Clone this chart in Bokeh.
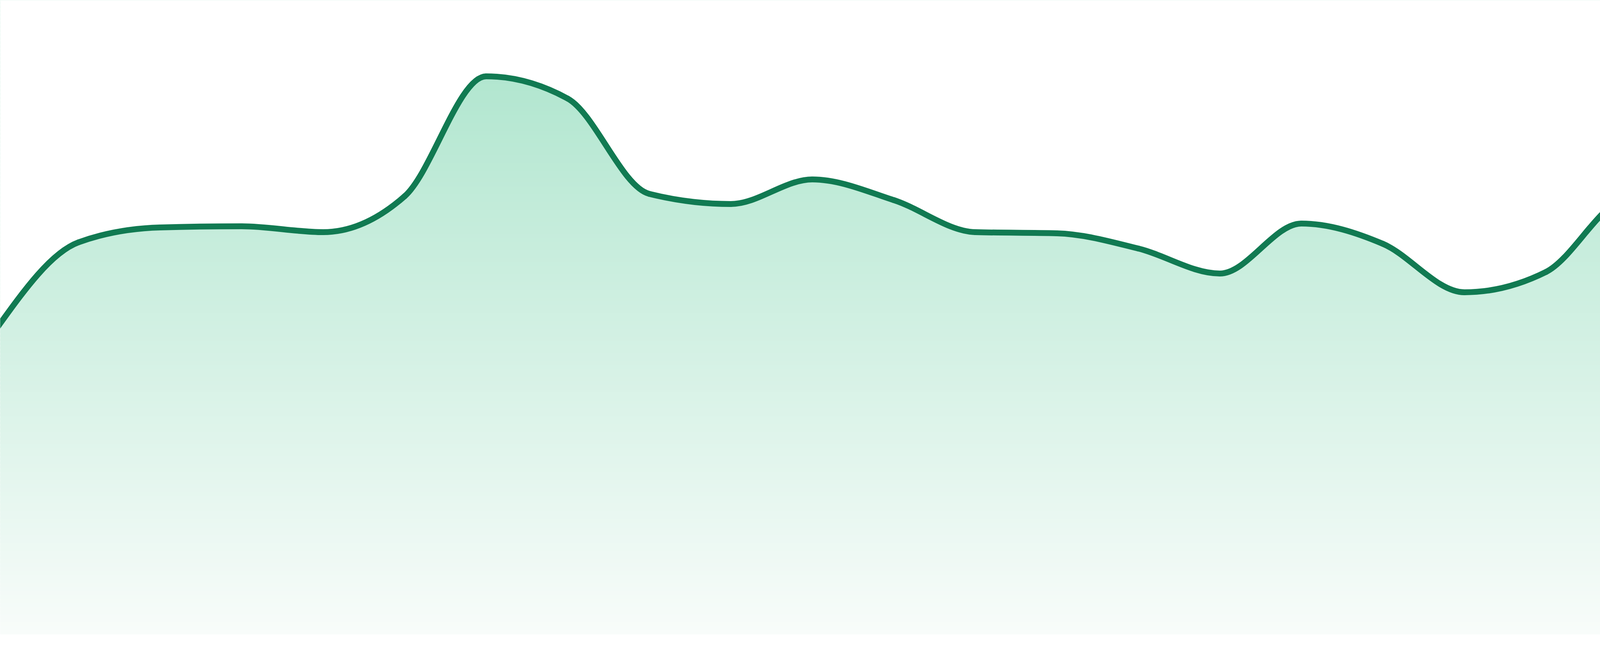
import numpy as np
from bokeh.plotting import figure
from bokeh.models import Range1d
from bokeh.embed import file_html
from bokeh.resources import INLINE

# ---- data ----
values = [78.5, 100.4, 104.2, 104.5, 103.0, 112.2, 142.9, 137.2, 112.8, 110.2,
          116.5, 111.2, 103.0, 102.7, 98.8, 92.4, 105.2, 100.0, 87.6, 92.8,
          111.8, 113.4, 114.8, 105.8]
index = list(range(len(values)))

# ---- style ----
LINE_COLOR = "#117a52"
TOP_RGB = (177, 230, 207)
BOTTOM_RGB = (248, 252, 250)

W, H = 4784, 1664
n = len(values)
pad = 8 * (n - 1) / 4800.0
x_start, x_end = pad, (n - 1) - pad
y_start, y_end = -4.0, 162.4

p = figure(width=W, height=H, output_backend="svg", toolbar_location=None,
           x_range=Range1d(x_start, x_end), y_range=Range1d(y_start, y_end),
           min_border=0, background_fill_color="white", border_fill_color="white")
p.axis.visible = False
p.grid.visible = False
p.outline_line_color = None


# monotone-x tangents (same rule as d3.curveMonotoneX)
def _sign(v):
    return -1.0 if v < 0 else 1.0


xs = np.array(index, dtype=float)
ys = np.array(values, dtype=float)
t = np.zeros(n)
for i in range(1, n - 1):
    h0, h1 = xs[i] - xs[i - 1], xs[i + 1] - xs[i]
    s0, s1 = (ys[i] - ys[i - 1]) / h0, (ys[i + 1] - ys[i]) / h1
    pp = (s0 * h1 + s1 * h0) / (h0 + h1)
    t[i] = (_sign(s0) + _sign(s1)) * min(abs(s0), abs(s1), 0.5 * abs(pp))
t[0] = (3 * (ys[1] - ys[0]) / (xs[1] - xs[0]) - t[1]) / 2
t[-1] = (3 * (ys[-1] - ys[-2]) / (xs[-1] - xs[-2]) - t[-2]) / 2

x0, x1 = xs[:-1], xs[1:]
y0, y1 = ys[:-1], ys[1:]
dx = x1 - x0
cx0 = x0 + dx / 3
cy0 = y0 + dx * t[:-1] / 3
cx1 = x1 - dx / 3
cy1 = y1 - dx * t[1:] / 3

# outline of the area under the curve (used to mask the gradient)
u = np.linspace(0, 1, 60)[:, None]
bx = ((1 - u) ** 3 * x0 + 3 * (1 - u) ** 2 * u * cx0 + 3 * (1 - u) * u ** 2 * cx1 + u ** 3 * x1).T.ravel()
by = ((1 - u) ** 3 * y0 + 3 * (1 - u) ** 2 * u * cy0 + 3 * (1 - u) * u ** 2 * cy1 + u ** 3 * y1).T.ravel()

# vertical gradient fill (bands), then white above the curve
nb = 160
edges = np.linspace(0.0, y_end, nb + 1)
g_top_v = max(values) + 1.3
colors = []
for k in range(nb):
    mid = 0.5 * (edges[k] + edges[k + 1])
    f = min(max(mid / g_top_v, 0.0), 1.0)
    c = tuple(int(round(BOTTOM_RGB[j] + (TOP_RGB[j] - BOTTOM_RGB[j]) * f)) for j in range(3))
    colors.append("#%02x%02x%02x" % c)
step = edges[1] - edges[0]
p.quad(left=x_start - 1, right=x_end + 1, bottom=edges[:-1], top=edges[1:] + step * 0.6,
       fill_color=colors, line_color=None)
p.varea(x=bx, y1=by, y2=y_end + 5, fill_color="white")

p.bezier(x0=x0, y0=y0, x1=x1, y1=y1, cx0=cx0, cy0=cy0, cx1=cx1, cy1=cy1,
         line_color=LINE_COLOR, line_width=15, line_cap="round")

open("out.html", "w").write(file_html(p, INLINE))
